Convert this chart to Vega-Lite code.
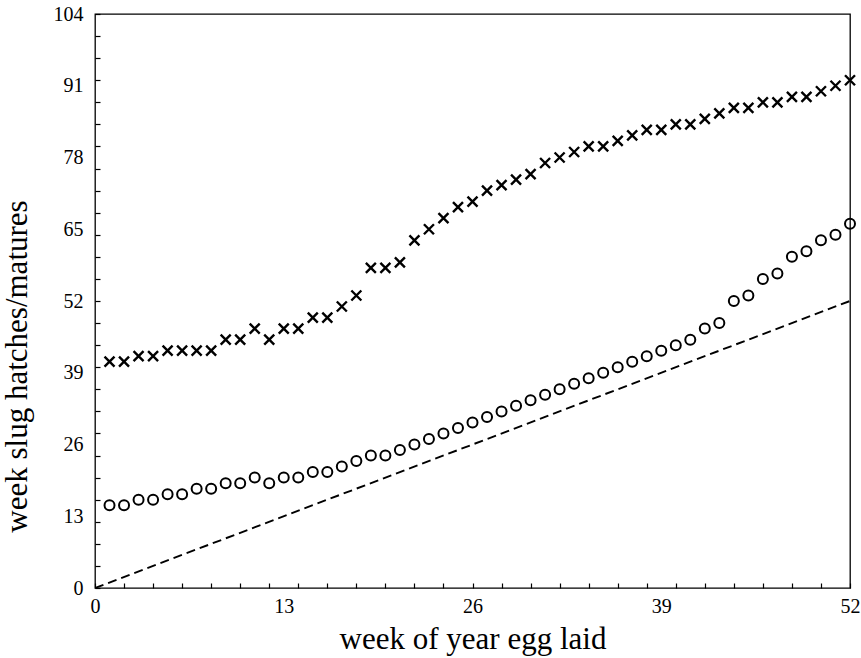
{
  "$schema": "https://vega.github.io/schema/vega-lite/v6.json",
  "width": 755,
  "height": 574,
  "autosize": {"type": "none"},
  "padding": {"left": 95, "top": 14, "right": 11, "bottom": 70},
  "background": "white",
  "config": {
    "view": {"stroke": "black", "strokeWidth": 1.3},
    "font": "Liberation Serif",
    "axis": {"labelColor": "black", "titleColor": "black", "tickColor": "black", "labelFont": "Liberation Serif", "titleFont": "Liberation Serif", "titleFontWeight": "normal", "grid": false}
  },
  "datasets": {
    "weeks": [
      {"week": 1, "hatch": 15, "mature": 41},
      {"week": 2, "hatch": 15, "mature": 41},
      {"week": 3, "hatch": 16, "mature": 42},
      {"week": 4, "hatch": 16, "mature": 42},
      {"week": 5, "hatch": 17, "mature": 43},
      {"week": 6, "hatch": 17, "mature": 43},
      {"week": 7, "hatch": 18, "mature": 43},
      {"week": 8, "hatch": 18, "mature": 43},
      {"week": 9, "hatch": 19, "mature": 45},
      {"week": 10, "hatch": 19, "mature": 45},
      {"week": 11, "hatch": 20, "mature": 47},
      {"week": 12, "hatch": 19, "mature": 45},
      {"week": 13, "hatch": 20, "mature": 47},
      {"week": 14, "hatch": 20, "mature": 47},
      {"week": 15, "hatch": 21, "mature": 49},
      {"week": 16, "hatch": 21, "mature": 49},
      {"week": 17, "hatch": 22, "mature": 51},
      {"week": 18, "hatch": 23, "mature": 53},
      {"week": 19, "hatch": 24, "mature": 58},
      {"week": 20, "hatch": 24, "mature": 58},
      {"week": 21, "hatch": 25, "mature": 59},
      {"week": 22, "hatch": 26, "mature": 63},
      {"week": 23, "hatch": 27, "mature": 65},
      {"week": 24, "hatch": 28, "mature": 67},
      {"week": 25, "hatch": 29, "mature": 69},
      {"week": 26, "hatch": 30, "mature": 70},
      {"week": 27, "hatch": 31, "mature": 72},
      {"week": 28, "hatch": 32, "mature": 73},
      {"week": 29, "hatch": 33, "mature": 74},
      {"week": 30, "hatch": 34, "mature": 75},
      {"week": 31, "hatch": 35, "mature": 77},
      {"week": 32, "hatch": 36, "mature": 78},
      {"week": 33, "hatch": 37, "mature": 79},
      {"week": 34, "hatch": 38, "mature": 80},
      {"week": 35, "hatch": 39, "mature": 80},
      {"week": 36, "hatch": 40, "mature": 81},
      {"week": 37, "hatch": 41, "mature": 82},
      {"week": 38, "hatch": 42, "mature": 83},
      {"week": 39, "hatch": 43, "mature": 83},
      {"week": 40, "hatch": 44, "mature": 84},
      {"week": 41, "hatch": 45, "mature": 84},
      {"week": 42, "hatch": 47, "mature": 85},
      {"week": 43, "hatch": 48, "mature": 86},
      {"week": 44, "hatch": 52, "mature": 87},
      {"week": 45, "hatch": 53, "mature": 87},
      {"week": 46, "hatch": 56, "mature": 88},
      {"week": 47, "hatch": 57, "mature": 88},
      {"week": 48, "hatch": 60, "mature": 89},
      {"week": 49, "hatch": 61, "mature": 89},
      {"week": 50, "hatch": 63, "mature": 90},
      {"week": 51, "hatch": 64, "mature": 91},
      {"week": 52, "hatch": 66, "mature": 92}
    ],
    "laid": [
      {"week": 0, "value": 0},
      {"week": 52, "value": 52}
    ]
  },
  "layer": [
    {
      "data": {"name": "laid"},
      "mark": {"type": "line", "color": "black", "strokeWidth": 1.9, "strokeDash": [9, 5], "clip": true},
      "encoding": {
        "x": {
          "field": "week", "type": "quantitative",
          "scale": {"domain": [0, 52], "nice": false, "zero": false},
          "axis": {"values": [0, 13, 26, 39, 52], "ticks": false, "domain": false, "labelFontSize": 20, "labelPadding": 8, "labelFlush": false, "title": "week of year egg laid", "titleFontSize": 31, "titlePadding": 8}
        },
        "y": {
          "field": "value", "type": "quantitative",
          "scale": {"domain": [0, 104], "nice": false, "zero": false},
          "axis": {"values": [0, 13, 26, 39, 52, 65, 78, 91, 104], "ticks": false, "domain": false, "labelFontSize": 20, "labelPadding": 12, "labelFlush": false, "title": "week slug hatches/matures", "titleFontSize": 31, "titlePadding": 20, "titleY": 352}
        }
      }
    },
    {
      "data": {"name": "weeks"},
      "mark": {"type": "point", "shape": "M-1,-1L1,1M-1,1L1,-1", "size": 100, "color": "black", "strokeWidth": 2.4, "filled": false, "opacity": 1},
      "encoding": {
        "x": {
          "field": "week", "type": "quantitative",
          "axis": {"orient": "bottom", "values": [0, 2, 4, 6, 8, 10, 12, 14, 16, 18, 20, 22, 24, 26, 28, 30, 32, 34, 36, 38, 40, 42, 44, 46, 48, 50, 52], "labels": false, "domain": false, "tickSize": -5, "tickWidth": 1.2, "title": null}
        },
        "y": {
          "field": "mature", "type": "quantitative",
          "axis": {"orient": "left", "values": [0, 4, 8, 12, 16, 20, 24, 28, 32, 36, 40, 44, 48, 52, 56, 60, 64, 68, 72, 76, 80, 84, 88, 92, 96, 100, 104], "labels": false, "domain": false, "tickSize": -5, "tickWidth": 1.2, "title": null}
        }
      }
    },
    {
      "data": {"name": "weeks"},
      "mark": {"type": "point", "shape": "circle", "size": 100, "color": "black", "strokeWidth": 2, "filled": false, "opacity": 1},
      "encoding": {
        "x": {"field": "week", "type": "quantitative", "axis": null},
        "y": {"field": "hatch", "type": "quantitative", "axis": null}
      }
    }
  ],
  "resolve": {"axis": {"x": "independent", "y": "independent"}}
}
